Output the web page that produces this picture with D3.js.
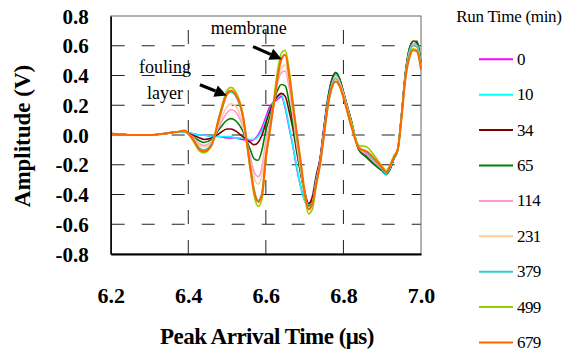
<!DOCTYPE html>
<html><head><meta charset="utf-8">
<script src="https://cdn.jsdelivr.net/npm/d3@7"></script>
<style>
html,body{margin:0;padding:0;background:#fff;}
svg{display:block;}
</style></head>
<body>
<svg id="chart" width="569" height="353"></svg>
<script>
// ---- data ----
const times = [6.20,6.26,6.30,6.34,6.37,6.39,6.41,6.43,6.44,6.46,6.48,6.50,6.51,6.52,6.54,6.56,6.57,6.58,6.59,6.60,6.61,6.62,6.63,6.64,6.65,6.66,6.67,6.68,6.69,6.70,6.71,6.72,6.73,6.74,6.75,6.76,6.77,6.78,6.79,6.80,6.82,6.84,6.86,6.88,6.90,6.91,6.92,6.93,6.94,6.95,6.96,6.97,6.98,6.99,7.00];
const runTimes = ["0","10","34","65","114","231","379","499","679"];
const amp0   = [0.01,0.00,0.00,0.01,0.02,0.02,0.01,0.00,0.00,-0.01,-0.01,-0.02,-0.02,-0.02,-0.03,-0.04,-0.03,0.00,0.05,0.12,0.19,0.22,0.24,0.26,0.18,0.05,-0.08,-0.23,-0.35,-0.44,-0.47,-0.41,-0.27,-0.15,0.06,0.25,0.37,0.41,0.37,0.28,0.09,-0.10,-0.14,-0.19,-0.24,-0.26,-0.23,-0.16,-0.10,0.14,0.41,0.56,0.61,0.61,0.47];
const amp10  = [0.01,0.00,0.00,0.01,0.02,0.02,0.01,0.00,0.00,-0.01,-0.01,-0.01,-0.01,-0.02,-0.02,-0.03,-0.03,-0.01,0.03,0.10,0.17,0.22,0.25,0.27,0.19,0.06,-0.08,-0.22,-0.35,-0.44,-0.47,-0.42,-0.28,-0.16,0.05,0.25,0.37,0.41,0.37,0.28,0.09,-0.10,-0.15,-0.19,-0.24,-0.27,-0.23,-0.16,-0.10,0.14,0.41,0.56,0.61,0.61,0.47];
const amp34  = [0.01,0.00,0.00,0.01,0.02,0.02,0.00,-0.02,-0.03,-0.02,0.01,0.04,0.04,0.03,-0.01,-0.05,-0.065,-0.05,0.00,0.08,0.16,0.22,0.26,0.28,0.26,0.16,0.04,-0.12,-0.26,-0.38,-0.46,-0.42,-0.28,-0.16,0.05,0.24,0.37,0.42,0.38,0.29,0.10,-0.10,-0.15,-0.20,-0.24,-0.26,-0.23,-0.16,-0.10,0.14,0.42,0.58,0.63,0.62,0.47];
const amp65  = [0.01,0.00,0.00,0.01,0.02,0.02,-0.01,-0.04,-0.05,-0.03,0.04,0.10,0.11,0.10,0.03,-0.10,-0.16,-0.17,-0.10,0.03,0.12,0.22,0.30,0.34,0.33,0.22,0.07,-0.10,-0.26,-0.39,-0.48,-0.45,-0.30,-0.17,0.04,0.24,0.36,0.42,0.38,0.29,0.10,-0.10,-0.15,-0.20,-0.24,-0.26,-0.23,-0.16,-0.10,0.14,0.42,0.58,0.63,0.63,0.48];
const amp114 = [0.01,0.00,0.00,0.01,0.02,0.02,-0.01,-0.06,-0.07,-0.04,0.06,0.15,0.17,0.16,0.06,-0.15,-0.25,-0.28,-0.22,-0.04,0.08,0.22,0.35,0.42,0.43,0.32,0.13,-0.07,-0.24,-0.39,-0.49,-0.46,-0.31,-0.18,0.03,0.22,0.34,0.40,0.36,0.28,0.09,-0.09,-0.13,-0.18,-0.23,-0.25,-0.22,-0.15,-0.10,0.13,0.40,0.56,0.61,0.60,0.47];
const amp231 = [0.01,0.00,0.00,0.01,0.02,0.02,-0.02,-0.07,-0.08,-0.05,0.08,0.19,0.21,0.20,0.08,-0.18,-0.29,-0.33,-0.27,-0.08,0.05,0.20,0.36,0.45,0.47,0.36,0.16,-0.05,-0.22,-0.39,-0.49,-0.46,-0.31,-0.18,0.02,0.21,0.33,0.39,0.35,0.27,0.08,-0.08,-0.12,-0.17,-0.22,-0.25,-0.22,-0.15,-0.10,0.13,0.39,0.55,0.60,0.59,0.46];
const amp379 = [0.01,0.00,0.00,0.01,0.02,0.02,-0.02,-0.09,-0.10,-0.06,0.11,0.27,0.29,0.27,0.13,-0.21,-0.37,-0.44,-0.39,-0.15,0.03,0.21,0.40,0.51,0.54,0.41,0.20,-0.02,-0.20,-0.40,-0.50,-0.47,-0.31,-0.19,0.01,0.20,0.33,0.38,0.34,0.26,0.07,-0.08,-0.12,-0.17,-0.23,-0.26,-0.22,-0.16,-0.10,0.13,0.40,0.55,0.60,0.59,0.46];
const amp499 = [0.01,0.00,0.00,0.01,0.02,0.03,-0.03,-0.11,-0.12,-0.07,0.13,0.30,0.32,0.30,0.15,-0.24,-0.41,-0.48,-0.43,-0.17,0.03,0.23,0.43,0.55,0.57,0.44,0.22,0.00,-0.20,-0.41,-0.53,-0.50,-0.34,-0.20,0.00,0.19,0.31,0.36,0.33,0.26,0.08,-0.07,-0.08,-0.14,-0.21,-0.24,-0.20,-0.14,-0.09,0.13,0.39,0.53,0.58,0.57,0.45];
const amp679 = [0.01,0.00,0.00,0.01,0.02,0.03,-0.02,-0.10,-0.11,-0.07,0.12,0.28,0.30,0.28,0.14,-0.22,-0.38,-0.45,-0.40,-0.15,0.02,0.20,0.38,0.51,0.54,0.40,0.20,0.01,-0.18,-0.38,-0.50,-0.46,-0.33,-0.19,0.00,0.20,0.32,0.36,0.33,0.25,0.06,-0.09,-0.11,-0.16,-0.22,-0.25,-0.21,-0.15,-0.10,0.12,0.38,0.52,0.57,0.56,0.44];
const seriesValues = [amp0,amp10,amp34,amp65,amp114,amp231,amp379,amp499,amp679];
const xTickValues = [6.2,6.4,6.6,6.8,7.0];
const xTickLabels = ["6.2","6.4","6.6","6.8","7.0"];
const yTickValues = [0.8,0.6,0.4,0.2,0.0,-0.2,-0.4,-0.6,-0.8];
const yTickLabels = ["0.8","0.6","0.4","0.2","0.0","-0.2","-0.4","-0.6","-0.8"];

// ---- styles ----
const colors = ["#FF00FF","#00FFFF","#800000","#008000","#FF99CC","#FFCC99","#33CCCC","#99CC00","#FF6600"];
const SERIF = "'Liberation Serif', 'Times New Roman', Times, serif";

const svg = d3.select("#chart");
const L = 110.7, R = 421, T = 16, B = 254;
const x = d3.scaleLinear().domain([6.2,7.0]).range([L,R]);
const y = d3.scaleLinear().domain([-0.8,0.8]).range([B,T]);

svg.append("rect").attr("width",569).attr("height",353).attr("fill","#fff");

// grid
const g = svg.append("g");
yTickValues.filter(v => Math.abs(v) < 0.75).forEach(v => {
  g.append("line").attr("x1",L+1).attr("x2",R).attr("y1",y(v)).attr("y2",y(v))
   .attr("stroke","#222").attr("stroke-width",1).attr("stroke-dasharray","13,17");
});
xTickValues.slice(1,-1).forEach(v => {
  g.append("line").attr("x1",x(v)).attr("x2",x(v)).attr("y1",B).attr("y2",T)
   .attr("stroke","#222").attr("stroke-width",1).attr("stroke-dasharray","14,16");
});

// frame
svg.append("rect").attr("x",L).attr("y",T).attr("width",R-L).attr("height",B-T)
  .attr("fill","none").attr("stroke","#666").attr("stroke-width",1);

// lines
const line = d3.line().x((d,i)=>x(times[i])).y(d=>y(d)).curve(d3.curveMonotoneX);
seriesValues.forEach((vals,k) => {
  svg.append("path").datum(vals).attr("d",line).attr("fill","none")
    .attr("stroke",colors[k]).attr("stroke-width", k===8 ? 2 : 1.6)
    .attr("stroke-linejoin","round");
});

// axes
const yAxis = d3.axisLeft(y).tickValues(yTickValues).tickFormat((d,i)=>yTickLabels[i]).tickSize(0).tickPadding(22);
const ya = svg.append("g").attr("transform",`translate(${L},0)`).call(yAxis);
ya.select(".domain").attr("stroke","#000").attr("stroke-width",1.5);
ya.selectAll("text").style("font-family",SERIF).style("font-weight","bold")
  .style("font-size","21px").attr("fill","#000").attr("dy","0.34em");

const xAxis = d3.axisBottom(x).tickValues(xTickValues).tickFormat((d,i)=>xTickLabels[i]).tickSize(0).tickPadding(33);
const xa = svg.append("g").attr("transform",`translate(0,${B})`).call(xAxis);
xa.select(".domain").attr("stroke","#000").attr("stroke-width",2);
xa.selectAll("text").style("font-family",SERIF).style("font-weight","bold")
  .style("font-size","22px").attr("fill","#000");

// axis titles
svg.append("text").attr("x",267).attr("y",344).attr("text-anchor","middle")
  .style("font-family",SERIF).style("font-weight","bold").style("font-size","23px").style("letter-spacing","-0.5px")
  .text("Peak Arrival Time (μs)");
svg.append("text").attr("transform","translate(30,136) rotate(-90)").attr("text-anchor","middle")
  .style("font-family",SERIF).style("font-weight","bold").style("font-size","23px")
  .text("Amplitude (V)");

// annotations
function arrow(t0,v0,t1,v1){
  const x0=x(t0),y0=y(v0),x1=x(t1),y1=y(v1);
  const a=Math.atan2(y1-y0,x1-x0), hl=12, hw=6;
  const bx=x1-hl*Math.cos(a), by=y1-hl*Math.sin(a);
  svg.append("line").attr("x1",x0).attr("y1",y0).attr("x2",bx).attr("y2",by)
    .attr("stroke","#000").attr("stroke-width",3.2);
  svg.append("path").attr("d",`M${x1},${y1}L${bx-hw*Math.sin(a)},${by+hw*Math.cos(a)}L${bx+hw*Math.sin(a)},${by-hw*Math.cos(a)}Z`)
    .attr("fill","#000");
}
arrow(6.567,0.594,6.641,0.51);
arrow(6.430,0.338,6.499,0.265);
const annot = (t,v,s) => svg.append("text").attr("x",x(t)).attr("y",y(v)).attr("text-anchor","middle")
  .style("font-family",SERIF).style("font-size","18px").text(s);
annot(6.556,0.68,"membrane");
annot(6.34,0.42,"fouling");
annot(6.34,0.245,"layer");

// legend
const lg = svg.append("g");
lg.append("text").attr("x",509).attr("y",22).attr("text-anchor","middle")
  .style("font-family",SERIF).style("font-size","17px").style("letter-spacing","-0.3px").text("Run Time (min)");
runTimes.forEach((rt,i) => {
  const yy = 59.3 + i*35.4;
  lg.append("line").attr("x1",479).attr("x2",513).attr("y1",yy).attr("y2",yy)
    .attr("stroke",colors[i]).attr("stroke-width",2);
  lg.append("text").attr("x",517).attr("y",yy+5.5)
    .style("font-family",SERIF).style("font-size","17px").style("letter-spacing","-0.6px").text(rt);
});
</script>
</body></html>
